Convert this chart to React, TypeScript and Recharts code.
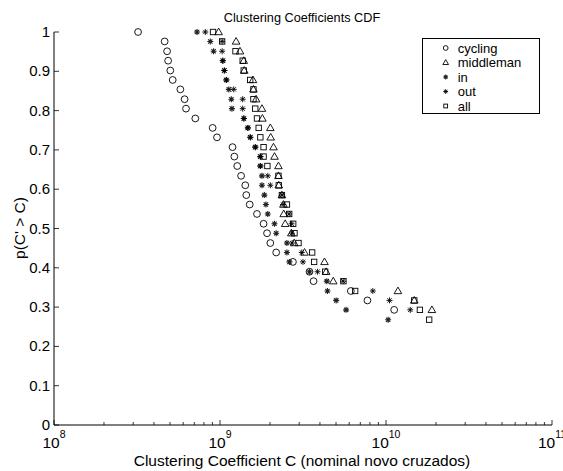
import React from 'react';
import { ScatterChart, Scatter, XAxis, YAxis } from 'recharts';

// p(C' > C) levels, one per rank
const levels = [
  1, 0.976, 0.951, 0.927, 0.902, 0.878, 0.854, 0.829, 0.805, 0.78, 0.756,
  0.732, 0.707, 0.683, 0.659, 0.634, 0.61, 0.585, 0.561, 0.537, 0.512,
  0.488, 0.463, 0.439, 0.415, 0.39, 0.366, 0.341, 0.317, 0.293, 0.268,
];

// clustering coefficient per rank, each series
const cycling = [
  3.21e8, 4.64e8, 4.8e8, 4.87e8, 5.02e8, 5.19e8, 5.77e8, 6.12e8, 6.24e8, 7.1e8,
  9.03e8, 9.59e8, 1.19e9, 1.22e9, 1.27e9, 1.34e9, 1.42e9, 1.44e9, 1.51e9, 1.67e9,
  1.83e9, 1.92e9, 2.01e9, 2.18e9, 2.75e9, 3.46e9, 3.66e9, 6.14e9, 7.73e9, 1.12e10,
];
const middleman = [
  9.81e8, 1.25e9, 1.32e9, 1.39e9, 1.4e9, 1.58e9, 1.59e9, 1.65e9, 1.79e9, 1.8e9,
  2.01e9, 2.02e9, 2.1e9, 2.13e9, 2.25e9, 2.25e9, 2.26e9, 2.36e9, 2.41e9, 2.42e9,
  2.47e9, 2.69e9, 2.8e9, 3.23e9, 4.26e9, 4.36e9, 4.81e9, 1.18e10, 1.48e10, 1.89e10,
];
const inDeg = [
  7.27e8, 8.74e8, 9.15e8, 1.04e9, 1.06e9, 1.09e9, 1.13e9, 1.17e9, 1.18e9, 1.39e9,
  1.47e9, 1.52e9, 1.63e9, 1.75e9, 1.75e9, 1.79e9, 1.79e9, 1.85e9, 1.89e9, 1.94e9,
  2.13e9, 2.18e9, 2.53e9, 2.53e9, 2.62e9, 3.46e9, 4.4e9, 4.44e9, 5.01e9, 5.75e9,
  1.03e10,
];
const outDeg = [
  8.16e8, 1.03e9, 1.03e9, 1.04e9, 1.065e9, 1.095e9, 1.21e9, 1.37e9, 1.37e9, 1.395e9,
  1.475e9, 1.525e9, 1.635e9, 1.75e9, 1.75e9, 1.94e9, 2.01e9, 2.36e9, 2.4e9, 2.61e9,
  2.7e9, 2.71e9, 2.72e9, 3.11e9, 3.16e9, 3.87e9, 5.52e9, 8.33e9, 1.05e10, 1.4e10,
];
const all = [
  9.08e8, 1.03e9, 1.24e9, 1.37e9, 1.39e9, 1.52e9, 1.59e9, 1.59e9, 1.63e9, 1.67e9,
  1.71e9, 1.75e9, 1.83e9, 1.83e9, 1.93e9, 2.25e9, 2.26e9, 2.36e9, 2.53e9, 2.61e9,
  2.76e9, 2.81e9, 2.97e9, 3.59e9, 3.69e9, 4.3e9, 5.54e9, 6.52e9, 1.48e10, 1.6e10,
  1.82e10,
];

const decades = [1e8, 1e9, 1e10, 1e11];
const yTicks = [0, 0.1, 0.2, 0.3, 0.4, 0.5, 0.6, 0.7, 0.8, 0.9, 1];
const yTickLabels = ['0', '0.1', '0.2', '0.3', '0.4', '0.5', '0.6', '0.7', '0.8', '0.9', '1'];

// decades plus the 2..9 minor ticks between them
const xTicks = decades.flatMap((d, i) =>
  i < decades.length - 1 ? [1, 2, 3, 4, 5, 6, 7, 8, 9].map((m) => m * d) : [d]
);

const FONT = '"Liberation Sans", Arial, Helvetica, sans-serif';
const INK = '#000';

const toPoints = (xs: number[]) => xs.map((x, i) => ({ x, y: levels[i] }));

// marker drawers, s scales them down for the legend
const drawCircle = (cx: number, cy: number, s = 1) => (
  <circle cx={cx} cy={cy} r={3.4 * s} fill="none" stroke={INK} strokeWidth={0.9} />
);
const drawTriangle = (cx: number, cy: number, s = 1) => (
  <path
    d={`M${cx},${cy - 3.9 * s}L${cx + 3.8 * s},${cy + 2.7 * s}L${cx - 3.8 * s},${cy + 2.7 * s}Z`}
    fill="none"
    stroke={INK}
    strokeWidth={0.9}
    strokeLinejoin="miter"
  />
);
const drawSquare = (cx: number, cy: number, s = 1) => (
  <rect x={cx - 2.7 * s} y={cy - 2.7 * s} width={5.4 * s} height={5.4 * s} fill="none" stroke={INK} strokeWidth={0.9} />
);
const drawStar = (cx: number, cy: number, s = 1, w = 0.9, color = INK) => {
  const r = 3 * s;
  const d = r * 0.72;
  return (
    <path
      d={`M${cx - r},${cy}H${cx + r}M${cx},${cy - r}V${cy + r}M${cx - d},${cy - d}L${cx + d},${cy + d}M${cx - d},${cy + d}L${cx + d},${cy - d}`}
      stroke={color}
      strokeWidth={w}
      fill="none"
    />
  );
};

const CircleShape = (p: any) => drawCircle(p.cx, p.cy);
const TriangleShape = (p: any) => drawTriangle(p.cx, p.cy);
const SquareShape = (p: any) => drawSquare(p.cx, p.cy);
const InShape = (p: any) => drawStar(p.cx, p.cy, 1, 1.1, '#222');
const OutShape = (p: any) => drawStar(p.cx, p.cy, 1, 0.9);

const BottomTick = ({ x, y, payload }: any) => {
  const major = decades.includes(payload.value);
  const exp = Math.round(Math.log10(payload.value));
  return (
    <g>
      <line x1={x} y1={y} x2={x} y2={y - (major ? 5 : 3)} stroke={INK} strokeWidth={0.8} />
      {major && (
        <text x={x} y={y + 23} textAnchor="middle" fontSize={15.5} fontFamily={FONT} fill={INK}>
          10
          <tspan dy={-10} fontSize={10.5}>
            {exp}
          </tspan>
        </text>
      )}
    </g>
  );
};

const TopTick = ({ x, y, payload }: any) => {
  const major = decades.includes(payload.value);
  return <line x1={x} y1={y} x2={x} y2={y + (major ? 5 : 3)} stroke={INK} strokeWidth={0.8} />;
};

const LeftTick = ({ x, y, payload, index }: any) => (
  <g>
    <line x1={x} y1={y} x2={x + 5} y2={y} stroke={INK} strokeWidth={0.8} />
    <text x={x - 4} y={y + 5} textAnchor="end" fontSize={15} fontFamily={FONT} fill={INK}>
      {yTickLabels[index] ?? String(payload.value)}
    </text>
  </g>
);

const RightTick = ({ x, y }: any) => (
  <line x1={x} y1={y} x2={x - 5} y2={y} stroke={INK} strokeWidth={0.8} />
);

const legendItems = [
  { name: 'cycling', draw: (cx: number, cy: number) => drawCircle(cx, cy, 0.7) },
  { name: 'middleman', draw: (cx: number, cy: number) => drawTriangle(cx, cy, 0.75) },
  { name: 'in', draw: (cx: number, cy: number) => drawStar(cx, cy, 0.8, 1.1, '#222') },
  { name: 'out', draw: (cx: number, cy: number) => drawStar(cx, cy, 0.8, 0.9) },
  { name: 'all', draw: (cx: number, cy: number) => drawSquare(cx, cy, 0.7) },
];

export default function App() {
  return (
    <div
      style={{
        position: 'absolute',
        left: 0,
        top: 0,
        width: 563,
        height: 471,
        background: '#fff',
        fontFamily: FONT,
      }}
    >
      <ScatterChart width={563} height={471} margin={{ top: 32, right: 11, bottom: 0, left: 0 }}>
        <XAxis
          xAxisId="bottom"
          dataKey="x"
          type="number"
          scale="log"
          domain={[1e8, 1e11]}
          allowDataOverflow
          ticks={xTicks}
          interval={0}
          height={46}
          tickSize={0}
          tickMargin={0}
          tickLine={false}
          tick={<BottomTick />}
          axisLine={{ stroke: INK, strokeWidth: 1 }}
        />
        <XAxis
          xAxisId="top"
          orientation="top"
          type="number"
          scale="log"
          domain={[1e8, 1e11]}
          allowDataOverflow
          ticks={xTicks}
          interval={0}
          height={0}
          tickSize={0}
          tickMargin={0}
          tickLine={false}
          tick={<TopTick />}
          axisLine={{ stroke: INK, strokeWidth: 1 }}
        />
        <YAxis
          yAxisId="left"
          dataKey="y"
          type="number"
          domain={[0, 1]}
          ticks={yTicks}
          interval={0}
          width={54}
          tickSize={0}
          tickMargin={0}
          tickLine={false}
          tick={<LeftTick />}
          axisLine={{ stroke: INK, strokeWidth: 1 }}
        />
        <YAxis
          yAxisId="right"
          orientation="right"
          type="number"
          domain={[0, 1]}
          ticks={yTicks}
          interval={0}
          width={0}
          tickSize={0}
          tickMargin={0}
          tickLine={false}
          tick={<RightTick />}
          axisLine={{ stroke: INK, strokeWidth: 1 }}
        />
        <Scatter xAxisId="bottom" yAxisId="left" name="cycling" data={toPoints(cycling)} shape={CircleShape} isAnimationActive={false} />
        <Scatter xAxisId="bottom" yAxisId="left" name="middleman" data={toPoints(middleman)} shape={TriangleShape} isAnimationActive={false} />
        <Scatter xAxisId="bottom" yAxisId="left" name="in" data={toPoints(inDeg)} shape={InShape} isAnimationActive={false} />
        <Scatter xAxisId="bottom" yAxisId="left" name="out" data={toPoints(outDeg)} shape={OutShape} isAnimationActive={false} />
        <Scatter xAxisId="bottom" yAxisId="left" name="all" data={toPoints(all)} shape={SquareShape} isAnimationActive={false} />
      </ScatterChart>

      {/* title, axis labels and legend box */}
      <svg
        width={563}
        height={471}
        style={{ position: 'absolute', left: 0, top: 0, pointerEvents: 'none' }}
        fontFamily={FONT}
      >
        <text x={302} y={22} textAnchor="middle" fontSize={12.7} fill={INK}>
          Clustering Coefficients CDF
        </text>
        <text x={302} y={466} textAnchor="middle" fontSize={15.5} fill={INK}>
          Clustering Coefficient C (nominal novo cruzados)
        </text>
        <text x={25} y={228} textAnchor="middle" fontSize={15.5} fill={INK} transform="rotate(-90 25 228)">
          p(C' &gt; C)
        </text>
        <rect x={422.5} y={38.5} width={117} height={75} fill="#fff" stroke={INK} strokeWidth={1} />
        {legendItems.map((item, i) => {
          const cy = 48 + i * 14.5;
          return (
            <g key={item.name}>
              {item.draw(445.7, cy)}
              <text x={457.7} y={cy + 4.5} fontSize={13} fill={INK}>
                {item.name}
              </text>
            </g>
          );
        })}
      </svg>
    </div>
  );
}
